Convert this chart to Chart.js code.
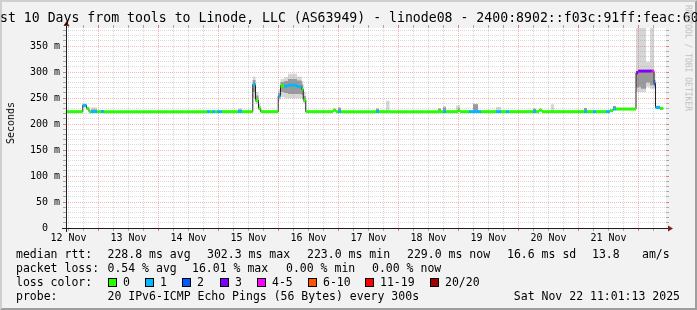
<!DOCTYPE html>
<html lang="en">
<head>
  <meta charset="UTF-8">
  <title>Last 10 Days from tools to Linode, LLC (AS63949) - linode08</title>
  <script src="https://cdn.jsdelivr.net/npm/chart.js"></script>
  <style>
    html, body { margin: 0; padding: 0; }
    body {
      width: 697px;
      height: 310px;
      overflow: hidden;
      position: relative;
      background: #f2f2f2;
      font-family: "DejaVu Sans Mono", monospace;
    }
    canvas { position: absolute; left: 0; top: 0; }
    .txt {
      position: absolute;
      white-space: pre;
      color: #000;
      font-size: 11.5px;
      line-height: 14px;
    }
    #title {
      position: absolute;
      left: 0;
      top: 10px;
      white-space: pre;
      font-size: 13.2px;
      line-height: 16px;
    }
    #unit {
      position: absolute;
      left: 11px;
      top: 123px;
      font-size: 10px;
      line-height: 12px;
      white-space: pre;
      transform: translate(-50%, -50%) rotate(-90deg);
    }
    #mark {
      position: absolute;
      left: 688px;
      top: 58px;
      font-size: 8px;
      line-height: 9px;
      color: #bdbdbd;
      white-space: pre;
      transform: translate(-50%, -50%) rotate(90deg);
    }
    .box {
      position: absolute;
      top: 278px;
      width: 9px;
      height: 9px;
      box-sizing: border-box;
      border: 1px solid #000;
    }
  </style>
</head>
<body>
  <canvas id="smoke" width="697" height="310"></canvas>
  <div id="title">st 10 Days from tools to Linode, LLC (AS63949) - linode08 - 2400:8902::f03c:91ff:feac:60</div>
  <div id="unit">Seconds</div>
  <div id="mark">RRDTOOL / TOBI OETIKER</div>
  <div id="legend"></div>

  <script>
    // hours since 12 Nov 11:00, one entry per step of the median line
    const stepStart = [0, 6.7, 8.2, 9.2, 10, 12.4, 14, 15.2, 56.4, 57.6, 58.4, 59.6, 60.4, 62.4, 68.8, 70.4,
      74.7, 75.8, 77, 77.9, 84.9, 85.8, 87.3, 88.8, 92.4, 94.3, 94.9, 95.9, 106.8, 108, 108.8, 110,
      124, 125.2, 128, 129.4, 148.8, 150, 150.8, 152, 156, 156.8, 157.6, 161.2, 162.8, 164.8, 166,
      168.8, 169.6, 172, 174, 176, 177.2, 186.8, 188, 189.2, 190.4, 194, 195.2, 207.2, 208.4, 210.8,
      212, 216, 217.6, 218.8, 220, 228, 228.8, 230, 232, 233.6, 234.3, 235.2, 235.8, 237.6];
    const endHour = 238.9;

    // median rtt in ms
    const medianMs = [224, 236, 230, 224, 224, 224, 224, 224, 224, 224, 224, 224, 224, 224, 224, 224,
      276, 246, 230, 224, 254, 274, 273, 275, 272, 267, 246, 224, 227, 224, 224, 224,
      224, 224, 224, 224, 224, 224, 224, 224, 224, 227, 224, 224, 224, 224, 224,
      224, 224, 224, 224, 224, 224, 224, 224, 227, 224, 224, 224, 224, 224, 224,
      224, 224, 226, 229, 229, 299, 302, 302, 302, 302, 302, 278, 232, 230];

    // lost pings out of 20
    const lossCount = [0, 1, 0, 0, 1, 0, 1, 0, 1, 0, 1, 0, 1, 0, 1, 0,
      1, 0, 0, 0, 1, 0, 1, 1, 1, 0, 0, 0, 0, 0, 1, 0,
      1, 0, 0, 0, 0, 0, 1, 0, 0, 0, 0, 1, 1, 1, 0,
      0, 0, 1, 0, 1, 0, 1, 0, 0, 0, 0, 0, 1, 0, 1,
      0, 1, 0, 1, 0, 3, 3, 3, 3, 3, 5, 2, 1, 0];

    // smoke: full ping spread and the denser core, ms
    const smokeLow = [224, 232, 228, 224, 224, 224, 224, 224, 224, 224, 224, 224, 224, 224, 224, 224,
      250, 238, 226, 224, 246, 252, 250, 250, 250, 250, 240, 224, 224, 224, 224, 224,
      224, 224, 224, 224, 224, 224, 224, 224, 224, 224, 224, 224, 224, 224, 224,
      224, 224, 224, 224, 224, 224, 224, 224, 227, 224, 224, 224, 224, 224, 224,
      224, 224, 226, 227, 229, 262, 262, 262, 272, 268, 268, 268, 230, 229];
    const smokeHigh = [224, 238, 231, 224, 232, 224, 227, 224, 224, 224, 224, 224, 224, 224, 230, 224,
      291, 262, 240, 224, 266, 287, 290, 297, 291, 283, 262, 224, 228, 224, 233, 224,
      231, 224, 245, 224, 230, 224, 235, 224, 236, 236, 224, 224, 239, 224, 224,
      228, 224, 233, 224, 224, 224, 231, 224, 227, 224, 238, 224, 231, 224, 224,
      224, 224, 226, 235, 229, 400, 400, 400, 320, 400, 400, 300, 236, 232];
    const coreLow = [224, 234, 229, 224, 224, 224, 224, 224, 224, 224, 224, 224, 224, 224, 224, 224,
      262, 242, 228, 224, 250, 262, 260, 258, 258, 256, 243, 224, 225, 224, 224, 224,
      224, 224, 224, 224, 224, 224, 224, 224, 224, 225, 224, 224, 224, 224, 224,
      224, 224, 224, 224, 224, 224, 224, 224, 227, 224, 224, 224, 224, 224, 224,
      224, 224, 226, 228, 229, 270, 272, 268, 280, 275, 275, 272, 231, 229];
    const coreHigh = [224, 237, 230, 224, 228, 224, 227, 224, 224, 224, 224, 224, 224, 224, 228, 224,
      285, 255, 234, 224, 260, 281, 283, 287, 284, 276, 254, 224, 227, 224, 231, 224,
      229, 224, 224, 224, 230, 224, 232, 224, 224, 230, 224, 224, 238, 224, 224,
      224, 224, 224, 224, 224, 224, 229, 224, 227, 224, 224, 224, 231, 224, 224,
      224, 224, 226, 235, 229, 302, 303, 303, 303, 303, 303, 285, 234, 231];

    const dayLabels = ['12 Nov', '13 Nov', '14 Nov', '15 Nov', '16 Nov', '17 Nov', '18 Nov', '19 Nov', '20 Nov', '21 Nov'];
    const yTicks = [0, 50, 100, 150, 200, 250, 300, 350];

    const lossLabels = ['0', '1', '2', '3', '4-5', '6-10', '11-19', '20/20'];
    const lossColors = ['#26ff00', '#00b8ff', '#0059ff', '#7e00ff', '#ff00ff', '#ff5500', '#ff0000', '#a10000'];

    const rttStats = ['228.8 ms avg', '302.3 ms max', '223.0 ms min', '229.0 ms now', '16.6 ms sd', '13.8', 'am/s'];
    const lossStats = ['0.54 % avg', '16.01 % max', '0.00 % min', '0.00 % now'];
    const probeText = '20 IPv6-ICMP Echo Pings (56 Bytes) every 300s';
    const stampText = 'Sat Nov 22 11:01:13 2025';

    function lossBucket(n) {
      if (n <= 3) return n;
      if (n <= 5) return 4;
      if (n <= 10) return 5;
      if (n <= 19) return 6;
      return 7;
    }

    // legend below the graph
    const legend = document.getElementById('legend');
    function addText(text, left, top) {
      const d = document.createElement('div');
      d.className = 'txt';
      d.textContent = text;
      d.style.left = left + 'px';
      d.style.top = top + 'px';
      legend.appendChild(d);
      return d;
    }
    addText('median rtt:', 16, 247);
    [107.5, 207, 307, 407, 507, 592, 642].forEach((x, i) => addText(rttStats[i], x, 247));
    addText('packet loss:', 16, 261);
    [107.5, 192, 286, 372].forEach((x, i) => addText(lossStats[i], x, 261));
    addText('loss color:', 16, 275);
    [108, 145, 182, 220, 257, 308, 365, 430].forEach((x, i) => {
      const b = document.createElement('div');
      b.className = 'box';
      b.style.left = x + 'px';
      b.style.background = lossColors[i];
      legend.appendChild(b);
      addText(lossLabels[i], x + 15, 275);
    });
    addText('probe:', 16, 289);
    addText(probeText, 107.5, 289);
    const stamp = addText(stampText, 0, 289);
    stamp.style.left = (680 - stamp.getBoundingClientRect().width) + 'px';

    // step series for the library
    const stepped = arr => stepStart.map((h, i) => ({ x: h, y: arr[i] }))
      .concat([{ x: endHour, y: arr[arr.length - 1] }]);

    // median coloured by loss: one horizontal piece per step, gaps between
    const medianPieces = [];
    stepStart.forEach((h, i) => {
      const h1 = i + 1 < stepStart.length ? stepStart[i + 1] : endHour;
      medianPieces.push({ x: h, y: medianMs[i], loss: lossCount[i] });
      medianPieces.push({ x: h1, y: medianMs[i], loss: lossCount[i] });
      medianPieces.push({ x: h1, y: null });
    });

    function band(data, fill, color, order) {
      return {
        data, fill, order,
        stepped: true,
        borderWidth: 0,
        borderColor: 'rgba(0,0,0,0)',
        backgroundColor: color,
        pointRadius: 0
      };
    }

    const rrdFrame = {
      id: 'rrdFrame',
      beforeDraw(chart) {
        const { ctx, chartArea: a, width: w, height: h } = chart;
        ctx.save();
        ctx.fillStyle = '#f2f2f2';
        ctx.fillRect(0, 0, w, h);
        ctx.fillStyle = '#cfcfcf';
        ctx.beginPath();
        ctx.moveTo(0, 0); ctx.lineTo(w, 0); ctx.lineTo(w - 2, 2); ctx.lineTo(2, 2);
        ctx.lineTo(2, h - 2); ctx.lineTo(0, h); ctx.closePath(); ctx.fill();
        ctx.fillStyle = '#9e9e9e';
        ctx.beginPath();
        ctx.moveTo(w, 0); ctx.lineTo(w, h); ctx.lineTo(0, h); ctx.lineTo(2, h - 2);
        ctx.lineTo(w - 2, h - 2); ctx.lineTo(w - 2, 2); ctx.closePath(); ctx.fill();
        ctx.fillStyle = '#ffffff';
        ctx.fillRect(a.left, a.top, a.right - a.left, a.bottom - a.top);
        ctx.restore();
      },
      afterDatasetsDraw(chart) {
        const { ctx, chartArea: a } = chart;
        const xs = chart.scales.x, ys = chart.scales.y;
        const minor = 'rgba(143,143,143,0.34)', major = 'rgba(222,79,79,0.40)';
        const minorTick = 'rgba(143,143,143,0.75)', majorTick = 'rgba(222,79,79,0.75)';
        ctx.save();
        ctx.lineWidth = 1;

        // vertical grid every 6 hours, red at midnight
        for (let hr = 1; hr < 240; hr += 6) {
          const px = Math.floor(xs.getPixelForValue(hr)) + 0.5;
          const isMajor = (hr - 13) % 24 === 0;
          ctx.setLineDash([1, 1]);
          ctx.strokeStyle = isMajor ? major : minor;
          ctx.beginPath(); ctx.moveTo(px, a.bottom); ctx.lineTo(px, a.top); ctx.stroke();
          ctx.setLineDash([]);
          ctx.strokeStyle = isMajor ? majorTick : minorTick;
          ctx.beginPath();
          ctx.moveTo(px, a.bottom); ctx.lineTo(px, a.bottom + 3);
          ctx.moveTo(px, a.top - 3); ctx.lineTo(px, a.top);
          ctx.stroke();
        }
        // horizontal grid every 10 ms, red every 50
        for (let v = 10; v < ys.max; v += 10) {
          const py = Math.floor(ys.getPixelForValue(v)) + 0.5;
          const isMajor = v % 50 === 0;
          ctx.setLineDash([1, 1]);
          ctx.strokeStyle = isMajor ? major : minor;
          ctx.beginPath(); ctx.moveTo(a.left, py); ctx.lineTo(a.right, py); ctx.stroke();
          ctx.setLineDash([]);
          ctx.strokeStyle = isMajor ? majorTick : minorTick;
          ctx.beginPath();
          ctx.moveTo(a.left - 3, py); ctx.lineTo(a.left, py);
          ctx.moveTo(a.right, py); ctx.lineTo(a.right + 3, py);
          ctx.stroke();
        }

        // axes and arrows
        ctx.strokeStyle = '#1f1f1f';
        ctx.beginPath();
        ctx.moveTo(a.left - 4, a.bottom + 0.5); ctx.lineTo(a.right + 4, a.bottom + 0.5);
        ctx.moveTo(a.left + 0.5, a.bottom + 4); ctx.lineTo(a.left + 0.5, a.top - 4);
        ctx.stroke();
        ctx.fillStyle = '#801f1f';
        ctx.beginPath();
        ctx.moveTo(a.right + 2, a.bottom - 2.5); ctx.lineTo(a.right + 2, a.bottom + 3.5);
        ctx.lineTo(a.right + 7, a.bottom + 0.5); ctx.closePath(); ctx.fill();
        ctx.beginPath();
        ctx.moveTo(a.left - 2.5, a.top - 2); ctx.lineTo(a.left + 3.5, a.top - 2);
        ctx.lineTo(a.left + 0.5, a.top - 7); ctx.closePath(); ctx.fill();
        ctx.restore();
      }
    };

    const tickFont = { family: 'DejaVu Sans Mono', size: 10 };

    new Chart(document.getElementById('smoke'), {
      type: 'line',
      data: {
        datasets: [
          {
            data: medianPieces,
            order: 0,
            borderWidth: 3,
            borderColor: lossColors[0],
            segment: {
              borderColor: c => lossColors[lossBucket(medianPieces[c.p0DataIndex].loss)]
            },
            pointRadius: 0,
            spanGaps: false,
            fill: false
          },
          {
            data: stepped(medianMs),
            order: 1,
            stepped: true,
            borderWidth: 1,
            borderColor: '#202020',
            pointRadius: 0,
            fill: false
          },
          band(stepped(coreLow), false, 'rgba(0,0,0,0)', 2),
          band(stepped(coreHigh), '-1', '#9a9a9a', 2),
          band(stepped(smokeLow), false, 'rgba(0,0,0,0)', 3),
          band(stepped(smokeHigh), '-1', '#d6d6d6', 3)
        ]
      },
      options: {
        responsive: false,
        devicePixelRatio: 1,
        animation: false,
        events: [],
        layout: { padding: { left: 0, top: 28, right: 31, bottom: 0 } },
        plugins: {
          legend: { display: false },
          tooltip: { enabled: false }
        },
        scales: {
          x: {
            type: 'linear',
            min: 0,
            max: 240,
            afterFit: s => { s.height = 82; },
            afterBuildTicks: s => { s.ticks = dayLabels.map((_, i) => ({ value: 1 + 24 * i })); },
            grid: { display: false, drawTicks: false },
            border: { display: false },
            ticks: {
              autoSkip: false,
              maxRotation: 0,
              minRotation: 0,
              padding: 4,
              color: '#000',
              font: tickFont,
              callback: (v, i) => dayLabels[i]
            }
          },
          y: {
            type: 'linear',
            min: 0,
            max: 385,
            afterFit: s => { s.width = 66; },
            afterBuildTicks: s => { s.ticks = yTicks.map(v => ({ value: v })); },
            grid: { display: false, drawTicks: false },
            border: { display: false },
            ticks: {
              padding: 6,
              color: '#000',
              font: tickFont,
              callback: v => v === 0 ? '0  ' : v + ' m'
            }
          }
        }
      },
      plugins: [rrdFrame]
    });
  </script>
</body>
</html>
